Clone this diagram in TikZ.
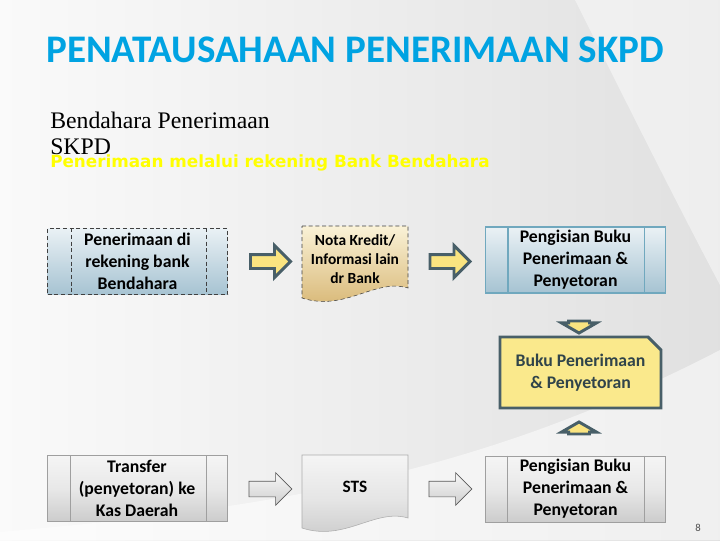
\documentclass[tikz,border=0pt]{standalone}
\usepackage{fontspec}
\setmainfont{Liberation Serif}
\newfontfamily\calib{Carlito}
\newfontfamily\dejab{DejaVu Sans}
\usetikzlibrary{shapes.arrows,shapes.misc}
\definecolor{titleblue}{RGB}{0,163,226}
\definecolor{slate}{RGB}{72,95,104}
\definecolor{arrowyel}{RGB}{250,228,128}
\definecolor{bukuyel}{RGB}{250,233,140}
\definecolor{bluetop}{RGB}{234,241,245}
\definecolor{bluebot}{RGB}{166,195,210}
\definecolor{blueline}{RGB}{112,168,190}
\definecolor{tantop}{RGB}{250,242,215}
\definecolor{tanbot}{RGB}{214,180,112}
\def\px{*.75pt}

\begin{document}
\begin{tikzpicture}[x=.75pt,y=.75pt,
  boxtext/.style={font=\calib\bfseries\fontsize{13.3}{16.5}\selectfont,align=center,inner sep=0pt},
  wbox/.style={boxtext,rectangle,minimum width=180\px,minimum height=66\px},
  bluebox/.style={wbox,top color=bluetop,bottom color=bluebot},
  graybox/.style={wbox,top color=gray!8,bottom color=gray!40,middle color=gray!18,draw=gray!75},
  yarrow/.style={single arrow,draw=slate,line width=2.2pt,fill=arrowyel,inner xsep=0pt,
    inner ysep=5.5\px,single arrow head extend=9\px,minimum height=40\px},
  garrow/.style={single arrow,draw=gray!70!black,line width=.5pt,top color=gray!6,bottom color=gray!38,
    inner xsep=0pt,inner ysep=7.5\px,single arrow head extend=8.5\px,minimum height=43\px},
  varrow/.style={single arrow,draw=slate,line width=2.2pt,fill=arrowyel,single arrow tip angle=120,
    single arrow head extend=7\px,inner xsep=9\px,inner ysep=0pt,minimum height=12\px,minimum width=10\px}]
  \fill[left color=gray!4,right color=gray!24] (0,0) rectangle (720,540);
  \useasboundingbox (0,0) rectangle (720,540);
  \fill[white,opacity=.45] (575,540) .. controls (620,450) and (680,330) .. (720,255) -- (720,540) -- cycle;
  \fill[white,opacity=.5] (0,8) .. controls (250,30) and (470,60) .. (720,190) -- (720,0) -- (0,0) -- cycle;
  \node[text=titleblue,font=\calib\bfseries\fontsize{29.3}{34}\selectfont,inner sep=0pt] (title) at (355,490.5)
    {PENATAUSAHAAN PENERIMAAN SKPD};
  \node[anchor=north west,align=left,inner sep=0pt,font=\fontsize{17.8}{19.5}\selectfont] (bend) at (50,428)
    {Bendahara Penerimaan\\SKPD};
  \node[anchor=base west,inner sep=0pt,text={rgb,255:red,255;green,255;blue,0},
    font=\dejab\bfseries\fontsize{12.6}{15}\selectfont] (via) at (50,373)
    {Penerimaan melalui rekening Bank Bendahara};
  % baris atas
  \node[bluebox,draw=gray!50!black,dashed,dash pattern=on 3pt off 2pt] (rek) at (137.5,278.5)
    {Penerimaan di\\rekening bank\\Bendahara};
  \draw[gray!50!black,dash pattern=on 3pt off 2pt] ([xshift=24\px]rek.north west) -- ([xshift=24\px]rek.south west)
    ([xshift=-22\px]rek.north east) -- ([xshift=-22\px]rek.south east);
  \node[yarrow] (a1) at (267,278.5) {};
  \shadedraw[top color=tantop,bottom color=tanbot,draw=gray!50!black,dash pattern=on 3pt off 2pt]
    (302,314) -- (408,314) -- (408,252) .. controls (375,262) and (345,228) .. (302,242) -- cycle;
  \node[boxtext,font=\calib\bfseries\fontsize{11.6}{14.25}\selectfont] (nota) at (355,281)
    {Nota Kredit/\\Informasi lain\\dr Bank};
  \node[yarrow] (a2) at (446.5,278.5) {};
  \node[bluebox,draw=blueline,line width=.8pt] (isi1) at (575.5,280) {Pengisian Buku\\Penerimaan \&\\Penyetoran};
  \draw[blueline,line width=.8pt] ([xshift=23\px]isi1.north west) -- ([xshift=23\px]isi1.south west)
    ([xshift=-22\px]isi1.north east) -- ([xshift=-22\px]isi1.south east);
  % buku
  \node[varrow,shape border rotate=270] (dn) at (579,216) {};
  \node[chamfered rectangle,chamfered rectangle corners=north east,chamfered rectangle xsep=9\px,
    draw=slate,line width=2.2pt,fill=bukuyel,text={rgb,255:red,48;green,68;blue,74},boxtext,
    minimum width=161\px,minimum height=71\px] (buku) at (580.5,167.5) {Buku Penerimaan\\\& Penyetoran};
  \node[varrow,shape border rotate=90] (up) at (579,109) {};
  % baris bawah
  \node[graybox] (trf) at (137,51.5) {Transfer\\(penyetoran) ke\\Kas Daerah};
  \draw[gray!75] ([xshift=24\px]trf.north west) -- ([xshift=24\px]trf.south west)
    ([xshift=-21\px]trf.north east) -- ([xshift=-21\px]trf.south east);
  \node[garrow] (a3) at (266.5,51) {};
  \shadedraw[top color=gray!8,bottom color=gray!42,middle color=gray!20,draw=gray!65]
    (302,85) -- (408,85) -- (408,22) .. controls (375,32) and (345,-2) .. (302,12) -- cycle;
  \node[boxtext,font=\calib\bfseries\fontsize{13}{14}\selectfont] (sts) at (355,53) {STS};
  \node[garrow] (a4) at (446.5,51) {};
  \node[graybox] (isi2) at (575.5,51) {Pengisian Buku\\Penerimaan \&\\Penyetoran};
  \draw[gray!75] ([xshift=22\px]isi2.north west) -- ([xshift=22\px]isi2.south west)
    ([xshift=-22\px]isi2.north east) -- ([xshift=-22\px]isi2.south east);
  \node[font=\calib\fontsize{8}{9}\selectfont,text=gray!60!black,inner sep=0pt] (hal) at (698,12) {8};
\end{tikzpicture}
\end{document}
